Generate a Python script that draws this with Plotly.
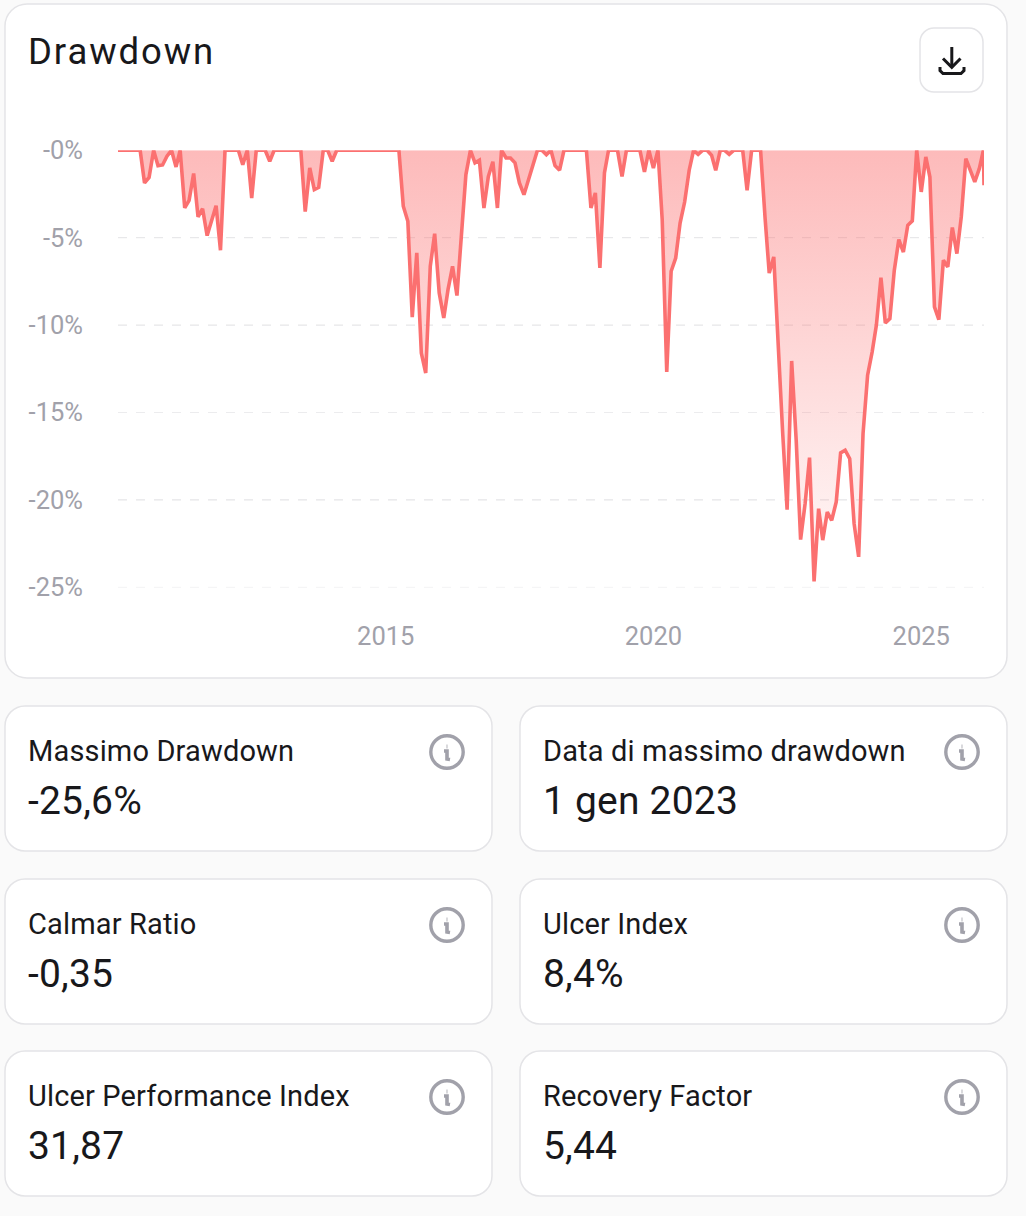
import pandas as pd
import plotly.graph_objects as go

W, H = 1026, 1216

# monthly drawdown (%), first month Jan 2010
drawdown = [
    0, 0, 0, 0, 0, 0, -1.87, -1.55, 0, -0.88, -0.84, -0.34,
    0, -0.95, 0, -3.3, -2.86, -1.33, -3.81, -3.34, -4.88, -4.06, -3.17, -5.72,
    0, 0, 0, 0, -0.82, 0, -2.73, 0, 0, 0, -0.63, 0,
    0, 0, 0, 0, 0, 0, -3.51, -1.01, -2.25, -2.12, 0, 0,
    -0.63, 0, 0, 0, 0, 0, 0, 0, 0, 0, 0, 0,
    0, 0, 0, 0, -3.2, -4.06, -9.55, -5.87, -11.6, -12.74, -6.64, -4.77,
    -8.16, -9.59, -7.97, -6.64, -8.31, -4.8, -1.39, 0, -0.72, -0.57, -3.3, -1.5,
    -0.65, -3.3, 0, -0.44, -0.44, -0.72, -1.87, -2.54, -1.64, -0.72, 0, 0,
    -0.25, 0, -0.88, -1.14, 0, 0, 0, 0, 0, 0, -3.3, -2.44,
    -6.73, -1.3, 0, 0, 0, -1.49, 0, 0, 0, 0, -1.24, 0,
    -1.01, 0, -3.97, -12.68, -6.92, -6.16, -4.16, -2.96, -1.14, 0, -0.23, 0,
    0, -0.29, -1.14, 0, 0, -0.23, 0, 0, 0, -2.29, 0, 0,
    0, -3.91, -7.02, -6.1, -11.44, -16.2, -20.56, -12.05, -16.6, -22.27, -20.2, -17.58,
    -24.66, -20.5, -22.3, -20.7, -21.17, -20.12, -17.31, -17.16, -17.64, -21.36, -23.26, -16.2,
    -12.87, -11.54, -10.0, -7.28, -9.88, -9.63, -6.87, -5.11, -5.82, -4.29, -4.04, 0,
    -2.38, -0.38, -1.53, -8.96, -9.69, -6.29, -6.67, -4.42, -5.91, -3.81, -0.48, -1.14,
    -1.81, -1.05, 0, -2.0,
]
start_month = "2010-01-01"
last_date = "2026-03-05"
dates = list(pd.date_range(start_month, periods=len(drawdown) - 1, freq="MS")) + [pd.Timestamp(last_date)]

y_ticks = [0, -5, -10, -15, -20, -25]
y_labels = ["-0%", "-5%", "-10%", "-15%", "-20%", "-25%"]
x_ticks = ["2015-01-01", "2020-01-01", "2025-01-01"]
x_labels = ["2015", "2020", "2025"]

title = "Drawdown"
card_labels = ["Massimo Drawdown", "Data di massimo drawdown", "Calmar Ratio",
               "Ulcer Index", "Ulcer Performance Index", "Recovery Factor"]
card_values = ["-25,6%", "1 gen 2023", "-0,35", "8,4%", "31,87", "5,44"]

FONT = "Roboto"
INK = "#18181b"
MUTED = "#a1a1aa"
BORDER = "#e4e4e7"
LINE = "#fb7070"
GRID_COLOURS = ["#e3e3e5", "#e0e0e2", "#ececee", "#dfdfe1", "#f3f3f4"]


def fx(p):
    return p / W


def fy(p):
    return 1 - p / H


def rrect(x0, y0, x1, y1, r, stroke=BORDER, fill="white", lw=1.5):
    k = r * 0.45
    pts = [
        ("M", x0 + r, y0), ("L", x1 - r, y0),
        ("C", x1 - k, y0, x1, y0 + k, x1, y0 + r), ("L", x1, y1 - r),
        ("C", x1, y1 - k, x1 - k, y1, x1 - r, y1), ("L", x0 + r, y1),
        ("C", x0 + k, y1, x0, y1 - k, x0, y1 - r), ("L", x0, y0 + r),
        ("C", x0, y0 + k, x0 + k, y0, x0 + r, y0),
    ]
    d = ""
    for p in pts:
        d += p[0] + " ".join(f"{fx(p[i]):.5f},{fy(p[i + 1]):.5f}" for i in range(1, len(p), 2))
    return dict(type="path", xref="paper", yref="paper", path=d + "Z",
                line=dict(color=stroke, width=lw), fillcolor=fill, layer="below")


def polyline(points, color, lw):
    d = "M" + "L".join(f"{fx(a):.5f},{fy(b):.5f}" for a, b in points)
    return dict(type="path", xref="paper", yref="paper", path=d,
                line=dict(color=color, width=lw), layer="above")


def text(s, x, y, size, color=INK, anchor="left"):
    return dict(text=s, xref="paper", yref="paper", x=fx(x), y=fy(y), xanchor=anchor,
                yanchor="middle", showarrow=False, align="left",
                font=dict(family=FONT, size=size, color=color))


shapes = [rrect(5, 4, 1007, 678, 22)]
annotations = [text(title, 26, 52, 36.5)]

# horizontal dashed grid, one per non-zero tick
for tick, colour in zip(y_ticks[1:], GRID_COLOURS):
    shapes.append(dict(type="line", xref="x domain", yref="y", x0=0, x1=1, y0=tick, y1=tick,
                       line=dict(color=colour, width=1, dash="9px,9px"), layer="below"))

# download button
shapes.append(rrect(920, 28, 983, 92, 14))
shapes.append(polyline([(951.8, 47), (951.8, 66)], INK, 3))
shapes.append(polyline([(943, 58.5), (951.8, 67.3), (960.5, 58.5)], INK, 3))
shapes.append(polyline([(940, 67), (940, 70.5), (943, 73.5), (961, 73.5), (964, 70.5), (964, 67)], INK, 3))

# metric cards
col_x = [(5, 492), (520, 1007)]
row_y = [(706, 851), (879, 1024), (1051, 1196)]
for i, (lab, val) in enumerate(zip(card_labels, card_values)):
    x0, x1 = col_x[i % 2]
    y0, y1 = row_y[i // 2]
    shapes.append(rrect(x0, y0, x1, y1, 20))
    annotations.append(text(lab, x0 + 21, y0 + 44.5, 29))
    annotations.append(text(val, x0 + 21, y0 + 95, 39))
    cx, cy = x1 - 45, y0 + 46
    r = 16.2
    shapes.append(dict(type="circle", xref="paper", yref="paper",
                       x0=fx(cx - r), x1=fx(cx + r), y0=fy(cy + r), y1=fy(cy - r),
                       line=dict(color=MUTED, width=3.4), fillcolor="rgba(0,0,0,0)", layer="above"))
    shapes.append(polyline([(cx - 0.4, cy - 5.4), (cx + 0.4, cy - 5.4)], MUTED, 4))
    shapes.append(polyline([(cx - 3, cy - 1), (cx, cy - 1), (cx, cy + 7), (cx + 3, cy + 7.5)], MUTED, 3.6))

fig = go.Figure()
fig.add_trace(go.Scatter(
    x=dates, y=drawdown, mode="lines",
    line=dict(color=LINE, width=3.6, shape="linear"),
    fill="tozeroy",
    fillgradient=dict(type="vertical", colorscale=[
        [0, "rgba(251,112,112,0.04)"], [1, "rgba(251,112,112,0.48)"]]),
    hoverinfo="skip", showlegend=False,
))

PLOT_TOP, PLOT_BOTTOM, PX_PER_PCT = 150.3, 612, 17.48
fig.update_layout(
    width=W, height=H, autosize=False,
    margin=dict(l=0, r=0, t=0, b=0),
    paper_bgcolor="#fafafa", plot_bgcolor="rgba(0,0,0,0)",
    font=dict(family=FONT),
    shapes=shapes, annotations=annotations, showlegend=False,
    xaxis=dict(
        domain=[fx(118), fx(984)], type="date", range=[start_month, last_date],
        tickmode="array", tickvals=x_ticks, ticktext=x_labels, automargin=False,
        showgrid=False, zeroline=False, showline=False, ticks="",
        ticklabelstandoff=6, tickfont=dict(family=FONT, size=25.5, color=MUTED),
    ),
    yaxis=dict(
        domain=[fy(PLOT_BOTTOM), fy(PLOT_TOP)], automargin=False,
        range=[-(PLOT_BOTTOM - PLOT_TOP) / PX_PER_PCT, 0],
        tickmode="array", tickvals=y_ticks, ticktext=y_labels,
        showgrid=False, zeroline=False, showline=False, ticks="",
        ticklabelstandoff=34, tickfont=dict(family=FONT, size=25.5, color=MUTED),
    ),
)

post = """
document.body.style.margin='0';
document.body.style.background='#fafafa';
document.querySelectorAll('.annotation-text').forEach(function(t){
  var s=parseFloat(t.style.fontSize);
  t.style.letterSpacing = s===29 ? '0.15px' : (s===39 ? '0.2px' : '1.9px');
});
"""
fig.write_html("out.html", config=dict(displayModeBar=False), post_script=post)
